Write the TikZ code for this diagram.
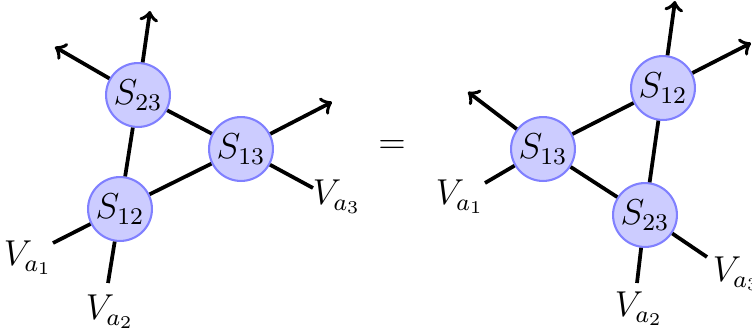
\documentclass[tikz,border=0pt]{standalone}
\begin{document}
\begin{tikzpicture}[x=0.33333pt,y=-0.33333pt,font=\large,
  vert/.style={circle,draw=blue!50,fill=blue!20,line width=0.7pt,minimum size=21.3pt,inner sep=0pt},
  leg/.style={line width=1.25pt},
  arr/.style={line width=1.25pt,->},
  lab/.style={inner sep=0pt}]
\useasboundingbox (0,0) rectangle (752,335);
% left diagram
\node[vert] (L12) at (120,209) {$S_{12}$};
\node[vert] (L13) at (241,149) {$S_{13}$};
\node[vert] (L23) at (138,95) {$S_{23}$};
\coordinate (La1) at (53,243);
\coordinate (La2) at (108,283);
\coordinate (La3) at (313,188);
\coordinate (Lt1) at (332,102);
\coordinate (Lt2) at (150,11);
\coordinate (Lt3) at (55,47);
\node[lab] (Lv1) at (28,258) {$V_{a_1}$};
\node[lab] (Lv2) at (110,312) {$V_{a_2}$};
\node[lab] (Lv3) at (337,197) {$V_{a_3}$};
\draw[leg] (La1) -- (L12);
\draw[leg] (L12) -- (L13);
\draw[arr] (L13) -- (Lt1);
\draw[leg] (La2) -- (L12);
\draw[leg] (L12) -- (L23);
\draw[arr] (L23) -- (Lt2);
\draw[leg] (La3) -- (L13);
\draw[leg] (L13) -- (L23);
\draw[arr] (L23) -- (Lt3);
% equals
\node (eq) at (392,147) {$=$};
% right diagram
\node[vert] (R12) at (663,88) {$S_{12}$};
\node[vert] (R13) at (543,149) {$S_{13}$};
\node[vert] (R23) at (645,215) {$S_{23}$};
\coordinate (Ra1) at (485,183);
\coordinate (Ra2) at (637,283);
\coordinate (Ra3) at (707,257);
\coordinate (Rt1) at (751,43);
\coordinate (Rt2) at (675,1);
\coordinate (Rt3) at (468,92);
\node[lab] (Rv1) at (460,197) {$V_{a_1}$};
\node[lab] (Rv2) at (639,309) {$V_{a_2}$};
\node[lab] (Rv3) at (737,274) {$V_{a_3}$};
\draw[leg] (Ra1) -- (R13);
\draw[leg] (R13) -- (R12);
\draw[arr] (R12) -- (Rt1);
\draw[leg] (Ra2) -- (R23);
\draw[leg] (R23) -- (R12);
\draw[arr] (R12) -- (Rt2);
\draw[leg] (Ra3) -- (R23);
\draw[leg] (R23) -- (R13);
\draw[arr] (R13) -- (Rt3);
\end{tikzpicture}
\end{document}
